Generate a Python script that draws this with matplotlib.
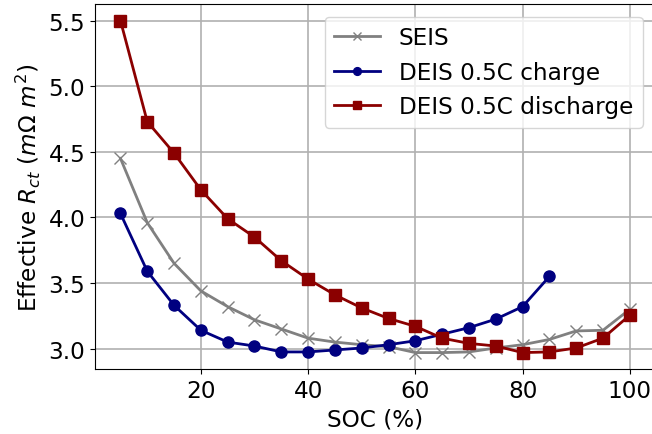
import numpy as np
import matplotlib
matplotlib.use("Agg")
import matplotlib.pyplot as plt

# SOC points (%)
soc = [5, 10, 15, 20, 25, 30, 35, 40, 45, 50, 55, 60, 65, 70, 75, 80, 85, 90, 95, 100]
soc_charge = soc[:17]

# effective Rct (mOhm m^2)
seis = [4.45, 3.96, 3.65, 3.44, 3.32, 3.22, 3.15, 3.08, 3.05, 3.03, 3.015, 2.97,
        2.97, 2.975, 3.005, 3.03, 3.07, 3.135, 3.14, 3.30]
deis_charge = [4.03, 3.59, 3.33, 3.14, 3.05, 3.02, 2.975, 2.975, 2.99, 3.005, 3.03,
               3.06, 3.11, 3.16, 3.225, 3.32, 3.55]
deis_discharge = [5.50, 4.73, 4.49, 4.21, 3.99, 3.85, 3.67, 3.53, 3.41, 3.31, 3.23,
                  3.17, 3.08, 3.04, 3.02, 2.97, 2.975, 3.005, 3.08, 3.255]

plt.rcParams["font.size"] = 16.7

fig, ax = plt.subplots(figsize=(6.52, 4.35), dpi=100)
fig.subplots_adjust(left=0.1457, right=1.005, top=0.9885, bottom=0.149)

ax.plot(soc, seis, color="grey", marker="x", markersize=8, linewidth=2, label="SEIS")
ax.plot(soc_charge, deis_charge, color="navy", marker="o", markersize=8, linewidth=2,
        label="DEIS 0.5C charge")
ax.plot(soc, deis_discharge, color="darkred", marker="s", markersize=8, linewidth=2,
        label="DEIS 0.5C discharge")

ax.grid(True, color="#b0b0b0", linewidth=1.2)
ax.set_xticks([20, 40, 60, 80, 100])
ax.set_yticks([3.0, 3.5, 4.0, 4.5, 5.0, 5.5])
ax.set_xlabel("SOC (%)")
ax.set_ylabel(r"Effective $R_{ct}$ ($m\Omega\ m^2$)")
ax.legend(loc="upper right", fontsize=16.7, markerscale=0.7, borderaxespad=0.55)

fig.savefig("out.png", dpi=100)
